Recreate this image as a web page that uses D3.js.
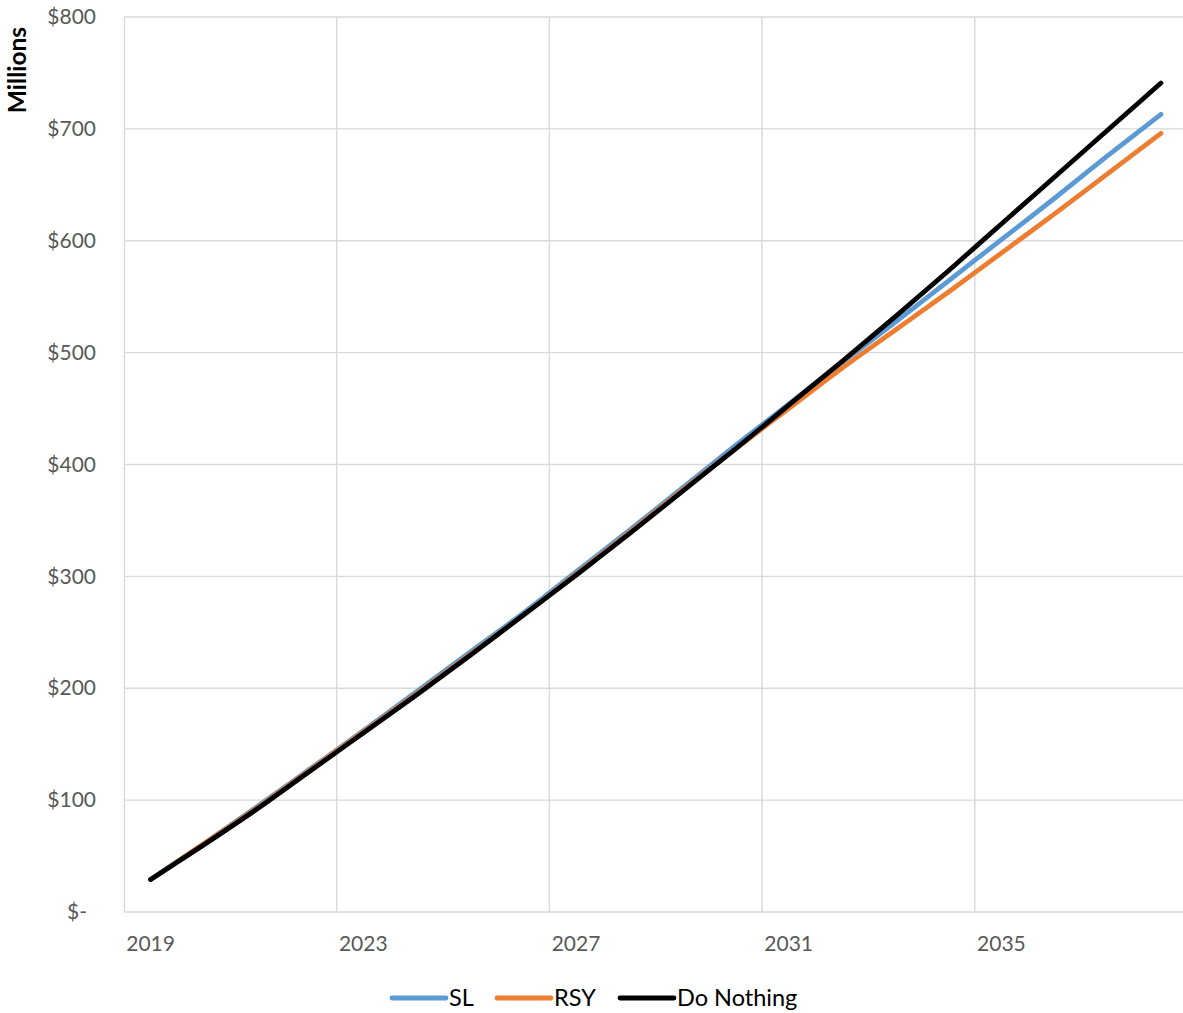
<!DOCTYPE html>
<html>
<head>
<meta charset="utf-8">
<script src="https://cdn.jsdelivr.net/npm/d3@7"></script>
<style>
  body { margin: 0; background: #fff; }
  svg { display: block; font-family: Lato, "Open Sans", sans-serif; }
</style>
</head>
<body>
<svg id="chart" width="1183" height="1013"></svg>
<script>
// Years on the category axis
var years = [2019, 2020, 2021, 2022, 2023, 2024, 2025, 2026, 2027, 2028,
             2029, 2030, 2031, 2032, 2033, 2034, 2035, 2036, 2037, 2038];

// Values in millions of dollars
var slValues = [29, 61, 94, 128, 162, 197, 232, 267, 304, 341,
                379, 417, 454, 491, 527, 564, 601, 638, 676, 713];
var rsyValues = [29, 61, 93, 127, 161, 195, 230, 265, 302, 339,
                 377, 414, 450, 486, 520, 554, 589, 624, 660, 696];
var doNothingValues = [29, 60, 92, 126, 160, 194, 229, 265, 301, 338,
                       376, 414, 453, 492, 532, 573, 615, 657, 699, 741];

var yTicks = [0, 100, 200, 300, 400, 500, 600, 700, 800];
var xLabelYears = [2019, 2023, 2027, 2031, 2035];

var seriesNames = ["SL", "RSY", "Do Nothing"];
var seriesColors = ["#5B9BD5", "#ED7D31", "#000000"];

function main() {
    var svg = d3.select("#chart");

    // category scale, points sit in the middle of each band
    var scaleX = d3.scaleBand()
        .domain(years)
        .range([124, 1187.5])
        .padding(0);
    var half = scaleX.bandwidth() / 2;

    var scaleY = d3.scaleLinear()
        .domain([0, 800])
        .range([912, 17]);

    // horizontal gridlines
    svg.append("g")
        .selectAll("line")
        .data(yTicks.filter(d => d > 0))
        .enter()
        .append("line")
        .attr("x1", 124)
        .attr("x2", 1183)
        .attr("y1", d => scaleY(d))
        .attr("y2", d => scaleY(d))
        .attr("stroke", "#D9D9D9")
        .attr("stroke-width", 1.4);

    // vertical gridlines at the start of every fourth category
    svg.append("g")
        .selectAll("line")
        .data(xLabelYears.slice(1))
        .enter()
        .append("line")
        .attr("x1", d => scaleX(d))
        .attr("x2", d => scaleX(d))
        .attr("y1", scaleY(800))
        .attr("y2", scaleY(0))
        .attr("stroke", "#D9D9D9")
        .attr("stroke-width", 1.4);

    // y-axis
    var yAxis = d3.axisLeft(scaleY)
        .tickValues(yTicks)
        .tickSize(0)
        .tickPadding(28)
        .tickFormat(d => d === 0 ? "$-" : "$" + d);
    var gY = svg.append("g")
        .attr("transform", "translate(124,0)")
        .call(yAxis);
    gY.select(".domain").attr("stroke", "#D9D9D9").attr("stroke-width", 1.4);
    gY.selectAll("text")
        .attr("fill", "#595959")
        .style("font-size", "21px")
        .style("font-family", "Lato, sans-serif")
        .attr("dx", d => d === 0 ? -9 : 0);

    // x-axis
    var xAxis = d3.axisBottom(scaleX)
        .tickValues(xLabelYears)
        .tickSize(0)
        .tickPadding(24)
        .tickFormat(d3.format("d"));
    var gX = svg.append("g")
        .attr("transform", "translate(0,912)")
        .call(xAxis);
    gX.select(".domain").remove();
    gX.append("line")
        .attr("x1", 124).attr("x2", 1183)
        .attr("stroke", "#D9D9D9").attr("stroke-width", 1.4);
    gX.selectAll("text")
        .attr("fill", "#595959")
        .style("font-size", "21px")
        .style("font-family", "Lato, sans-serif");

    // axis title
    svg.append("text")
        .attr("transform", "translate(26,70) rotate(-90)")
        .attr("text-anchor", "middle")
        .style("font-size", "24.5px")
        .style("font-weight", "bold")
        .attr("fill", "#000")
        .text("Millions");

    // lines
    var allSeries = [slValues, rsyValues, doNothingValues];
    var line = d3.line()
        .x((d, i) => scaleX(years[i]) + half)
        .y(d => scaleY(d))
        .curve(d3.curveMonotoneX);

    svg.append("g")
        .selectAll("path")
        .data(allSeries)
        .enter()
        .append("path")
        .attr("fill", "none")
        .attr("stroke", (d, i) => seriesColors[i])
        .attr("stroke-width", 4.8)
        .attr("stroke-linecap", "round")
        .attr("stroke-linejoin", "round")
        .attr("d", line);

    // legend
    var legendX = [392, 497, 620];
    var legend = svg.append("g")
        .selectAll("g")
        .data(seriesNames)
        .enter()
        .append("g")
        .attr("transform", (d, i) => "translate(" + legendX[i] + ",998)");
    legend.append("line")
        .attr("x1", 0).attr("x2", 54)
        .attr("stroke", (d, i) => seriesColors[i])
        .attr("stroke-width", 4.8)
        .attr("stroke-linecap", "round");
    legend.append("text")
        .attr("x", 57)
        .attr("dy", "0.36em")
        .style("font-size", "23.5px")
        .attr("fill", "#000")
        .text(d => d);
}

main();
</script>
</body>
</html>
